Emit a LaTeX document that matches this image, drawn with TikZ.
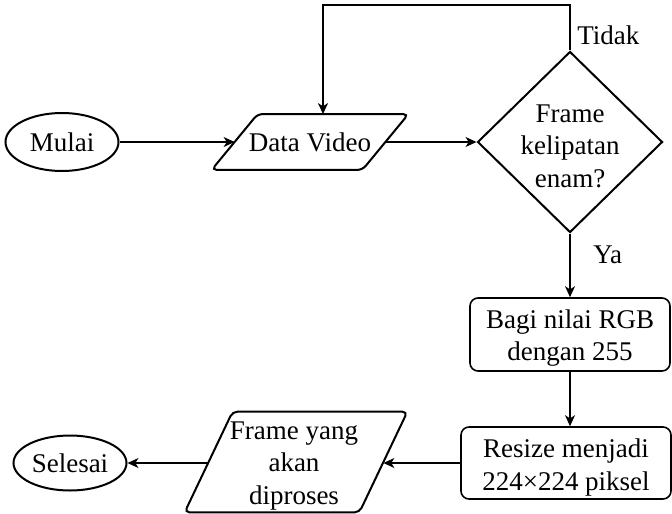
\documentclass[tikz,border=0pt]{standalone}
\usepackage{fontspec}
\setmainfont{LiberationSerif-Regular.ttf}
\usetikzlibrary{shapes.geometric,arrows.meta,calc}
\begin{document}
\begin{tikzpicture}[x=0.5pt,y=-0.5pt,
  font=\fontsize{13.5}{16.3}\selectfont,
  shapeline/.style={draw, line width=1pt},
  terminal/.style={shapeline, ellipse, inner sep=0pt},
  procbox/.style={draw, line width=0.8pt, rounded corners=4pt, inner sep=0pt},
  decision/.style={shapeline, diamond, inner sep=0pt},
  iobox/.style={rectangle, inner sep=0pt},
  ioframe/.style={shapeline, rounded corners=2.5pt},
  caption/.style={inner sep=0pt, align=center},
  flow/.style={line width=0.65pt, -{Stealth[length=5.5pt,width=5pt,inset=1.6pt]}},
  branch/.style={anchor=west, inner sep=0pt}
]
\useasboundingbox (0,0) rectangle (672,513);

% terminals
\node[terminal, minimum width=56.5pt, minimum height=29pt] (mulai) at (62,142) {Mulai};
\node[terminal, minimum width=56.5pt, minimum height=27.5pt] (selesai) at (70,463) {Selesai};

% input / output (parallelograms drawn around a plain rectangle node)
\node[iobox, minimum width=75pt, minimum height=27.5pt] (dv) at (310,142) {Data Video};
\draw[ioframe] ($(dv.south west)+(-23,0)$) -- ($(dv.north west)+(23,0)$)
  -- ($(dv.north east)+(23,0)$) -- ($(dv.south east)+(-23,0)$) -- cycle;

\node[iobox, minimum width=87pt, minimum height=50pt] (fy) at (296,462) {};
\draw[ioframe] ($(fy.south west)+(-24,0)$) -- ($(fy.north west)+(24,0)$)
  -- ($(fy.north east)+(24,0)$) -- ($(fy.south east)+(-24,0)$) -- cycle;
\node[caption] (fytext) at (294,466) {Frame yang\\akan\\diproses};

% decision
\node[decision, minimum width=92.5pt, minimum height=90.5pt] (dia) at (570,142) {};
\node[caption] (diatext) at (570,146) {Frame\\kelipatan\\enam?};

% processes
\node[procbox, minimum width=100pt, minimum height=36.5pt] (bagi) at (570,334.5) {};
\node[caption] (bagitext) at (570,338) {Bagi nilai RGB\\dengan 255};
\node[procbox, minimum width=105pt, minimum height=36pt] (rs) at (566,463) {};
\node[caption] (rstext) at (566,467.5) {Resize menjadi\\224×224 piksel};

% branch labels
\node[branch] (tidak) at (577,35) {Tidak};
\node[branch] (ya) at (593,255) {Ya};

% connectors
\coordinate (loop) at (323,5);
\draw[flow] (mulai.east) -- (dv.west);
\draw[flow] (dv.east) -- (dia.west);
\draw[flow] (dia.north) |- (loop) -- (loop |- dv.north);
\draw[flow] (dia.south) -- (bagi.north);
\draw[flow] (bagi.south) -- (bagi.south |- rs.north);
\draw[flow] (rs.west) -- (rs.west -| fy.east);
\draw[flow] (fy.west |- rs.west) -- (selesai.east);
\end{tikzpicture}
\end{document}
